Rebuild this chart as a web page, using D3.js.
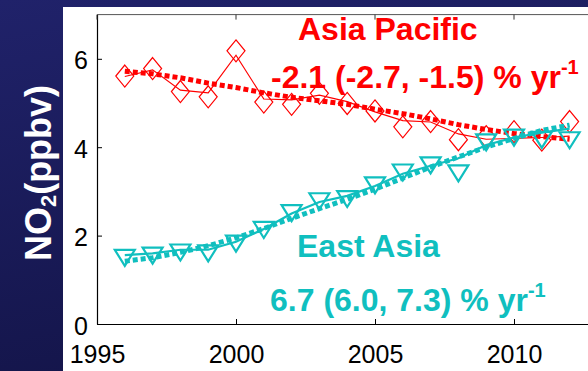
<!DOCTYPE html>
<html><head><meta charset="utf-8">
<script src="https://cdn.jsdelivr.net/npm/d3@7"></script>
<style>html,body{margin:0;padding:0;background:#1c1d5c;}svg{display:block;}</style>
</head><body>
<script>
const years = [1996,1997,1998,1999,2000,2001,2002,2003,2004,2005,2006,2007,2008,2009,2010,2011,2012];
const apMarkers = [5.61,5.78,5.26,5.14,6.18,5.02,4.97,5.22,4.99,4.82,4.46,4.58,4.17,4.24,4.35,4.16,4.58];
const apLine    = [5.60,5.75,5.29,5.23,6.08,5.09,5.07,5.18,5.03,4.80,4.60,4.57,4.30,4.18,4.20,4.22,4.25];
const apTrend   = [5.72,5.66,5.57,5.45,5.35,5.23,5.13,5.05,4.97,4.86,4.76,4.64,4.51,4.40,4.31,4.24,4.18];
const eaMarkers = [1.52,1.57,1.64,1.62,1.84,2.15,2.53,2.80,2.85,3.16,3.45,3.61,3.43,4.13,4.24,4.19,4.18];
const eaLine    = [1.56,1.60,1.68,1.68,1.86,2.15,2.50,2.76,2.90,3.12,3.40,3.58,3.75,4.05,4.22,4.33,4.42];
const eaTrend   = [1.42,1.50,1.62,1.77,1.95,2.16,2.39,2.61,2.82,3.05,3.30,3.55,3.78,4.00,4.20,4.38,4.50];
const xTicks = [1995,2000,2005,2010];
const yTicks = [0,2,4,6];

const W = 588, H = 371;
const svg = d3.select("body").append("svg").attr("width", W).attr("height", H);
const defs = svg.append("defs");
const grad = defs.append("linearGradient").attr("id","bg").attr("x1",0).attr("y1",0).attr("x2",0.3).attr("y2",1);
grad.append("stop").attr("offset","0%").attr("stop-color","#20226a");
grad.append("stop").attr("offset","100%").attr("stop-color","#14154a");
svg.append("rect").attr("width",W).attr("height",H).attr("fill","url(#bg)");
svg.append("rect").attr("x",63).attr("y",7).attr("width",W-63).attr("height",H-7).attr("fill","#fff");

const x = d3.scaleLinear().domain([1995,2013]).range([97, 97 + 18*27.8]);
const y = d3.scaleLinear().domain([0,7]).range([324, 324 - 7*44.2]);

const font = "'Liberation Sans', Arial, Helvetica, sans-serif";

// axes frame
const g = svg.append("g");
g.append("line").attr("x1",x(1995)).attr("x2",W).attr("y1",y(7)).attr("y2",y(7)).attr("stroke","#555").attr("stroke-width",1);
const xAxis = d3.axisBottom(x).tickValues(xTicks).tickSize(-5).tickSizeOuter(0).tickPadding(10).tickFormat(d3.format("d"));
const xa = g.append("g").attr("transform",`translate(0,${y(0)})`).call(xAxis);
xa.select(".domain").attr("stroke","#000").attr("stroke-width",1.2);
xa.selectAll("text").attr("font-family",font).attr("font-size",25).attr("fill","#000").attr("dy","0.71em").attr("y",21);
const yAxis = d3.axisLeft(y).tickValues(yTicks).tickSize(-5).tickSizeOuter(0).tickPadding(9).tickFormat(d3.format("d"));
const ya = g.append("g").attr("transform",`translate(${x(1995)},0)`).call(yAxis);
ya.select(".domain").attr("stroke","#000").attr("stroke-width",1.2);
ya.selectAll("text").attr("font-family",font).attr("font-size",25).attr("fill","#000").attr("dy","0.4em");
// top ticks
g.selectAll(".tt").data(xTicks).enter().append("line").attr("x1",d=>x(d)).attr("x2",d=>x(d)).attr("y1",y(7)).attr("y2",y(7)+5).attr("stroke","#333");

const line = arr => d3.line().x((d,i)=>x(years[i])).y(d=>y(d))(arr);

function series(markers, thin, trend, color, thinW, markerShape) {
  svg.append("path").attr("d", line(thin)).attr("fill","none").attr("stroke",color).attr("stroke-width",thinW);
  svg.append("path").attr("d", line(trend)).attr("fill","none").attr("stroke",color).attr("stroke-width",5).attr("stroke-dasharray","5,3");
  svg.selectAll(null).data(markers).enter().append("path")
    .attr("transform",(d,i)=>`translate(${x(years[i])},${y(d)})`)
    .attr("d", markerShape).attr("fill","none").attr("stroke",color).attr("stroke-width",thinW);
}
series(apMarkers, apLine, apTrend, "#ff0000", 1.2, "M0,-11L9,0L0,11L-9,0Z");
series(eaMarkers, eaLine, eaTrend, "#10bfbf", 2.2, "M-10,-7L10,-7L0,9Z");

// labels
function label(txt, sup, xx, yy, color) {
  const t = svg.append("text").attr("x",xx).attr("y",yy).attr("font-family",font).attr("font-weight","bold")
    .attr("font-size",32).attr("fill",color).text(txt);
  if (sup) t.append("tspan").attr("font-size",20).attr("dy",-14).text(sup);
}
label("Asia Pacific", null, 298, 40, "#ff0000");
label("-2.1 (-2.7, -1.5) % yr", "-1", 271, 88, "#ff0000");
label("East Asia", null, 297, 257, "#10bfbf");
label("6.7 (6.0, 7.3) % yr", "-1", 270, 311, "#10bfbf");

// y axis title
const yt = svg.append("text").attr("transform","translate(51,173) rotate(-90)").attr("text-anchor","middle")
  .attr("font-family",font).attr("font-weight","bold").attr("font-size",36).attr("fill","#fff");
yt.append("tspan").text("NO");
yt.append("tspan").attr("font-size",22).attr("dy",5).text("2");
yt.append("tspan").attr("dy",-5).text("(ppbv)");
</script>
</body></html>
